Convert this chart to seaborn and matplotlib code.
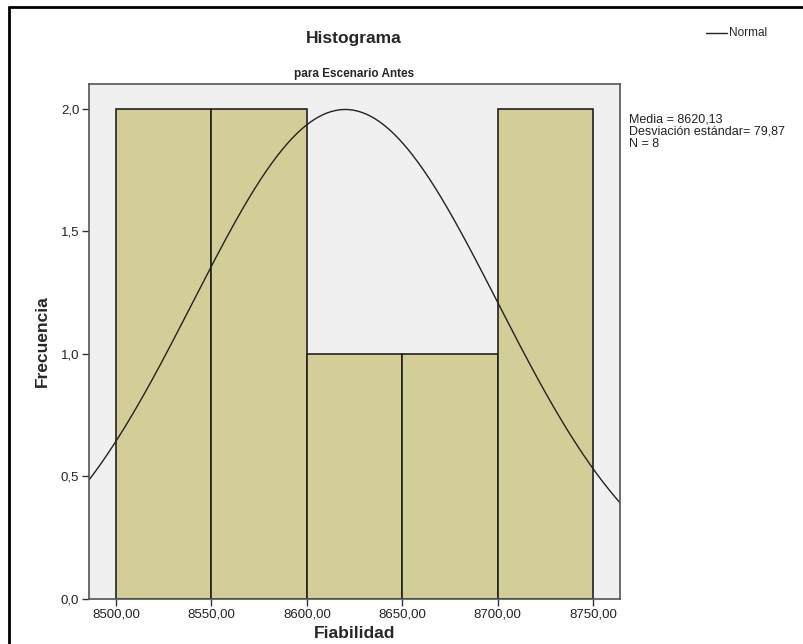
import matplotlib
matplotlib.use("Agg")
import matplotlib.pyplot as plt
import seaborn as sns
import numpy as np
from matplotlib.lines import Line2D

# data
bin_edges = [8500, 8550, 8600, 8650, 8700, 8750]
counts = [2, 2, 1, 1, 2]
media = 8620.13
desv = 79.87
n = 8

sns.set_style("white")
plt.rcParams['font.family'] = ['Liberation Sans', 'DejaVu Sans']

fig = plt.figure(figsize=(8.04, 6.44), dpi=100)
ax = fig.add_axes([89/804, 45/644, 531/804, 515/644])
ax.set_facecolor("#f0f0f0")

centers = [(a + b) / 2 for a, b in zip(bin_edges[:-1], bin_edges[1:])]
sns.histplot(x=centers, weights=counts, bins=bin_edges, ax=ax,
             color="#d3ce97", alpha=1, edgecolor="#222222", linewidth=1.2)

# normal curve scaled to counts
xs = np.linspace(8485, 8765, 400)
ys = n * 50 * np.exp(-0.5 * ((xs - media) / desv) ** 2) / (desv * np.sqrt(2 * np.pi))
ax.plot(xs, ys, color="#222222", lw=1)

ax.set_xlim(8485.8, 8764.2)
ax.set_ylim(0, 2.102)
ax.set_xticks(bin_edges)
ax.set_xticklabels([f"{v},00" for v in bin_edges])
ax.set_yticks([0, 0.5, 1.0, 1.5, 2.0])
ax.set_yticklabels(["0,0", "0,5", "1,0", "1,5", "2,0"])
ax.tick_params(axis="both", direction="out", length=5, width=1, color="#333333",
               labelsize=9.5, labelcolor="#222222", pad=2, left=True, bottom=True)
for s in ax.spines.values():
    s.set_color("#555555")
    s.set_linewidth(1.2)

ax.set_xlabel("Fiabilidad", fontsize=12.5, fontweight="bold", labelpad=4)
ax.set_ylabel("Frecuencia", fontsize=12.5, fontweight="bold", labelpad=8)

fig.text(354/804, 1 - 38/644, "Histograma", ha="center", va="center",
         fontsize=12.5, fontweight="bold")
fig.text(354/804, 1 - 74/644, "para Escenario Antes", ha="center", va="center",
         fontsize=8.5, fontweight="bold")

# legend
fig.add_artist(Line2D([706/804, 727/804], [1 - 33/644, 1 - 33/644], color="#222222", lw=1))
fig.text(729/804, 1 - 33/644, "Normal", ha="left", va="center", fontsize=8.5)

fig.text(629/804, 1 - 113/644,
         f"Media = {media:.2f}".replace(".", ",") + "\n"
         + f"Desviación estándar= {desv:.2f}".replace(".", ",") + "\n"
         + f"N = {n}",
         ha="left", va="top", fontsize=9, linespacing=1.05, color="#222222")

# outer frame
fig.add_artist(Line2D([9/804, 9/804], [0, 1 - 7/644], color="black", lw=2))
fig.add_artist(Line2D([9/804, 1], [1 - 7/644, 1 - 7/644], color="black", lw=2))

fig.savefig("out.png", dpi=100)
